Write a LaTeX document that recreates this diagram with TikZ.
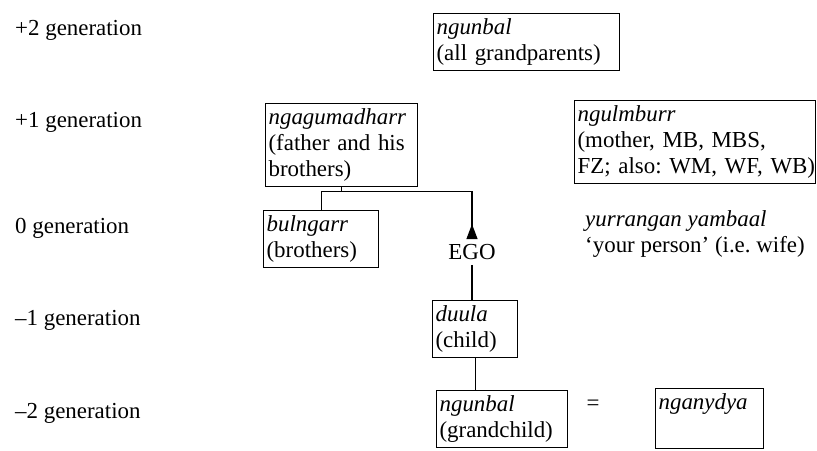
\documentclass[tikz,border=0pt]{standalone}
\usepackage{fontspec}
\setmainfont{Liberation Serif}
\usetikzlibrary{arrows.meta}
\frenchspacing
\tikzset{
  kinbox/.style={rectangle, draw, line width=1.2bp, anchor=north west, align=left, inner xsep=3bp, inner ysep=5bp},
  genlabel/.style={anchor=west, inner sep=0pt},
  link/.style={line width=1.2bp},
}
\begin{document}
\begin{tikzpicture}[x=1bp, y=-1bp, font=\fontsize{23}{26}\selectfont]
  \useasboundingbox (0, 0) rectangle (817, 451);
  \node[genlabel] (g2) at (15, 30) {+2 generation};
  \node[genlabel] (g1) at (15, 122) {+1 generation};
  \node[genlabel] (g0) at (15, 228) {0 generation};
  \node[genlabel] (gm1) at (15, 320) {\textendash1 generation};
  \node[genlabel] (gm2) at (15, 413) {\textendash2 generation};

  \node[kinbox, text width=180bp] (gp) at (433, 13) {\textit{ngunbal}\\(all grandparents)};
  \node[kinbox, text width=146bp] (fa) at (265, 103) {\textit{ngagumadharr}\\(father and his\\brothers)};
  \node[kinbox, text width=235bp] (mo) at (574, 100) {\textit{ngulmburr}\\(mother, MB, MBS,\\\mbox{FZ; also: WM, WF, WB)}};
  \node[kinbox, text width=109bp] (br) at (263, 210) {\textit{bulngarr}\\(brothers)};
  \node[inner sep=5bp] (ego) at (472, 252) {EGO};
  \node[anchor=north west, align=left, inner sep=0pt] (wife) at (585, 210) {\textit{yurrangan yambaal}\\‘your person’ (i.e. wife)};
  \node[kinbox, text width=79bp] (ch) at (432, 300) {\textit{duula}\\(child)};
  \node[kinbox, text width=125bp] (gc) at (436, 390) {\textit{ngunbal}\\(grandchild)};
  \node (eq) at (593, 405) {=};
  \node[kinbox, text width=102bp] (wi) at (655, 388) {\textit{nganydya}\\\strut};

  \draw[link] (fa.south) -- ++(0, 5) coordinate (fork);
  \draw[link] (fork) -| (br.north);
  \draw[link, -{Triangle[reversed, length=15bp, width=11bp]}] (fork) -| (ego.north);
  \draw[link] (ego.south) -- (ch.north -| ego.south);
  \draw[link] (ch.south) -- (ch.south |- gc.north);
\end{tikzpicture}
\end{document}
